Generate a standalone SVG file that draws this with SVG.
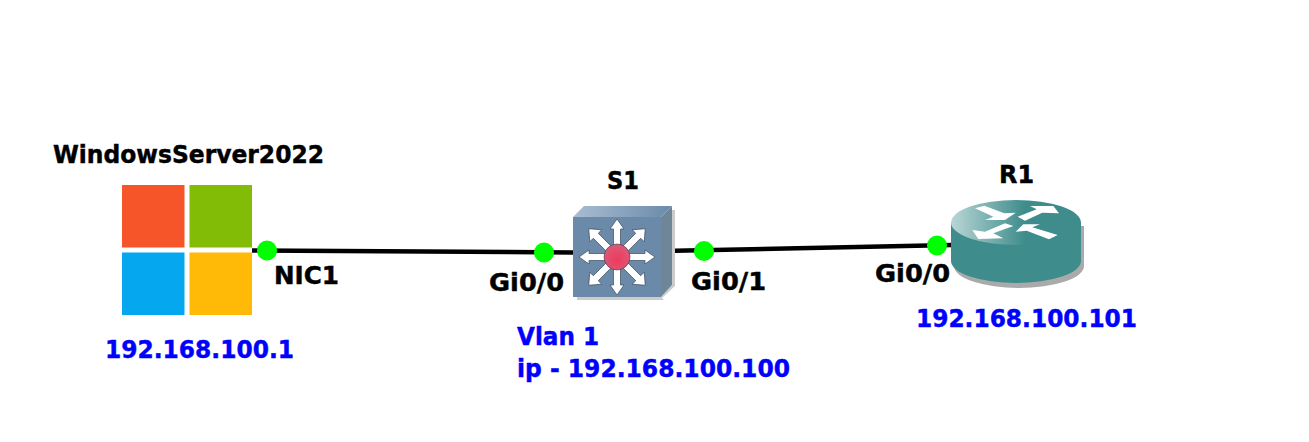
<svg xmlns="http://www.w3.org/2000/svg" width="1309" height="442" viewBox="0 0 1309 442">
<style>
.t{font-family:"DejaVu Sans","Liberation Sans",sans-serif;font-weight:700;font-size:25px;fill:#000;stroke:#000;stroke-width:.45}
.b{fill:#0000ff;stroke:#0000ff}
.link{stroke:#000;stroke-width:4.500;fill:none}
.dot{fill:#00ff00}
.ar{fill:#fff;stroke:#3a4a5a;stroke-width:.7}
</style>
<defs>
<linearGradient id="top" x1="0" y1="0" x2="1" y2="0"><stop offset="0" stop-color="#b9d6d6"/><stop offset=".57" stop-color="#3f8c8c"/><stop offset="1" stop-color="#3f8c8c"/></linearGradient>
<linearGradient id="stop" x1="0" y1="0" x2="1" y2="0"><stop offset="0" stop-color="#a9bdd2"/><stop offset="1" stop-color="#6b8aaa"/></linearGradient>
<radialGradient id="ball" cx=".5" cy=".6" r=".6"><stop offset="0" stop-color="#ee3a5c"/><stop offset="1" stop-color="#dc5a78"/></radialGradient>
<polygon id="arm" points="-3.500,0 -3.500,-28 -7,-28 0,-38 7,-28 3.500,-28 3.500,0"/>
<polygon id="diag" points="-3.500,0 -3.500,-30 -8.500,-30 0,-40 8.500,-30 3.500,-30 3.500,0"/>
</defs>
<rect width="1309" height="442" fill="#fff"/>
<g id="connectors">
<line class="link" x1="252" y1="250.500" x2="573" y2="252.500"/>
<line class="link" x1="662" y1="251" x2="952" y2="245"/>
</g>
<g id="WindowsServer2022">
<rect x="122" y="185" width="62.500" height="62.500" fill="#f55528"/>
<rect x="189.500" y="185" width="62.500" height="62.500" fill="#82bc06"/>
<rect x="122" y="252.500" width="62.500" height="62.500" fill="#05a7ef"/>
<rect x="189.500" y="252.500" width="62.500" height="62.500" fill="#ffb907"/>
<text class="t" x="53" y="163" textLength="271" lengthAdjust="spacingAndGlyphs">WindowsServer2022</text>
<text class="t b" x="105" y="358" textLength="189" lengthAdjust="spacingAndGlyphs">192.168.100.1</text>
</g>
<g id="S1">
<polygon points="662,298 675,286 675,210 672,210 672,285 661,297 577,297 577,300 664,300" fill="#ccc"/>
<polygon points="573,217 584,206 672,206 661,217" fill="url(#stop)"/>
<polygon points="661,217 672,206 672,285 661,297" fill="#6f8598"/>
<rect x="573" y="217" width="88" height="80" fill="#6b8aaa"/>
<g transform="translate(617,257)">
<use href="#arm" class="ar"/>
<use href="#diag" class="ar" transform="rotate(45)"/>
<use href="#arm" class="ar" transform="rotate(90)"/>
<use href="#diag" class="ar" transform="rotate(135)"/>
<use href="#arm" class="ar" transform="rotate(180)"/>
<use href="#diag" class="ar" transform="rotate(225)"/>
<use href="#arm" class="ar" transform="rotate(270)"/>
<use href="#diag" class="ar" transform="rotate(315)"/>
<circle r="13" fill="url(#ball)" stroke="#2f3f50" stroke-width=".6"/>
</g>
<text class="t" x="607" y="189" textLength="32" lengthAdjust="spacingAndGlyphs">S1</text>
<text class="t b" x="517" y="345" textLength="82" lengthAdjust="spacingAndGlyphs">Vlan 1</text>
<text class="t b" x="517" y="377" textLength="273" lengthAdjust="spacingAndGlyphs">ip - 192.168.100.100</text>
</g>
<g id="R1">
<path d="M954,226V266A65,22 0 0 0 1084,266V226Z" fill="#aaa"/>
<path d="M951,222V261A65,22 0 0 0 1081,261V222Z" fill="#3f8c8c"/>
<ellipse cx="1016" cy="222.500" rx="65" ry="22.500" fill="url(#top)"/>
<g fill="#fff">
<polygon points="975,208.300 984.300,205.700 1004.300,213.300 1015.700,212.700 1005,220 985,220 993.300,216.700"/>
<polygon points="1017.700,216.700 1036.700,209.300 1030,206 1053.300,206 1059,213.300 1042.300,212.700 1025,220.700"/>
<polygon points="1005,223.300 1013.300,226 993.300,233.300 1003.300,238.300 978.300,239 972.300,230 985,231.700"/>
<polygon points="1015.700,231.700 1023.300,224.300 1040,224.300 1032.300,227.300 1057.700,235 1049,239.300 1026.700,230.700"/>
</g>
<text class="t" x="999" y="183" textLength="35" lengthAdjust="spacingAndGlyphs">R1</text>
<text class="t b" x="916" y="327" textLength="221" lengthAdjust="spacingAndGlyphs">192.168.100.101</text>
</g>
<g id="port-labels">
<circle class="dot" cx="267" cy="250.500" r="10"/>
<circle class="dot" cx="544" cy="252.500" r="10"/>
<circle class="dot" cx="704" cy="251" r="10"/>
<circle class="dot" cx="937" cy="245.500" r="10"/>
<text class="t" x="274" y="284" textLength="65" lengthAdjust="spacingAndGlyphs">NIC1</text>
<text class="t" x="489" y="291" textLength="75" lengthAdjust="spacingAndGlyphs">Gi0/0</text>
<text class="t" x="691" y="290" textLength="75" lengthAdjust="spacingAndGlyphs">Gi0/1</text>
<text class="t" x="875" y="282" textLength="75" lengthAdjust="spacingAndGlyphs">Gi0/0</text>
</g>
</svg>
